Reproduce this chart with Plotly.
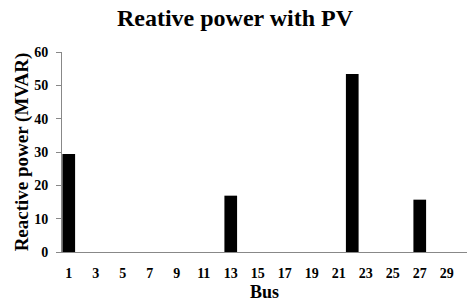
import plotly.graph_objects as go

buses = list(range(1, 31))
reactive = [0.0] * 30
bar_bus = [1, 13, 22, 27]
bar_vals = [29.4, 16.9, 53.4, 15.7]
for b, v in zip(bar_bus, bar_vals):
    reactive[b - 1] = v
xtick_vals = list(range(1, 30, 2))
xtick_text = [str(v) for v in xtick_vals]
ytick_vals = [0, 10, 20, 30, 40, 50, 60]

font = "Liberation Serif, Times New Roman, serif"

fig = go.Figure(go.Bar(x=buses, y=reactive, marker=dict(color="black", line=dict(width=0)), width=0.94,
                       hoverinfo="skip"))
fig.update_layout(
    width=470, height=306,
    margin=dict(l=62, r=3, t=52, b=54),
    paper_bgcolor="white", plot_bgcolor="white",
    title=dict(text="<b>Reative power with PV</b>", x=0.5, xanchor="center", y=0.941, yanchor="middle",
               font=dict(family=font, size=24, color="black")),
    showlegend=False,
)
fig.update_xaxes(range=[0.5, 30.5], tickvals=xtick_vals, ticktext=[f"<b>{t}</b>" for t in xtick_text],
                 showline=True, linecolor="#888888", linewidth=1, ticks="", showgrid=False, zeroline=False,
                 automargin=False, ticklabelstandoff=8,
                 tickfont=dict(family=font, size=14, color="black"),
                 title=dict(text="<b>Bus</b>", font=dict(family=font, size=18, color="black"), standoff=5))
fig.update_yaxes(range=[0, 60], tickvals=ytick_vals,
                 ticktext=[f"<b>{v}</b>" for v in ytick_vals],
                 showline=True, linecolor="#888888", linewidth=1, ticks="outside", ticklen=5, tickcolor="#888888",
                 showgrid=False, zeroline=False, automargin=False, ticklabelstandoff=5,
                 tickfont=dict(family=font, size=14, color="black"),
                 title=dict(text="<b>Reactive power (MVAR)</b>", font=dict(family=font, size=19, color="black"), standoff=0))
fig.write_html("out.html", config={"displayModeBar": False},
               post_script="document.body.style.margin='0';")
